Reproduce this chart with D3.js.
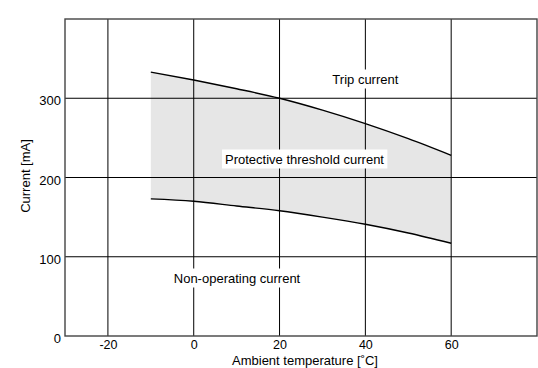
<!DOCTYPE html>
<html><head><meta charset="utf-8">
<script src="https://cdn.jsdelivr.net/npm/d3@7"></script>
<style>body{margin:0;background:#fff}svg{display:block}text{font-family:"Liberation Sans",Arial,sans-serif}</style>
</head><body>
<svg id="c" width="538" height="368"></svg>
<script>
const temps = [-10, 0, 10, 20, 30, 40, 50, 60];
const tripCurrent = [333, 323, 312, 300, 285, 268, 249, 228];
const nonOperatingCurrent = [173, 170, 164, 158, 150, 141, 130, 117];
const xTicks = [-20, 0, 20, 40, 60];
const yTicks = [0, 100, 200, 300];

const FONT = '"Liberation Sans",Arial,sans-serif';
const svg = d3.select("#c");
const L = 65, R = 537, T = 19, B = 336;
const x = d3.scaleLinear().domain([-30, 80]).range([L, R]);
const y = d3.scaleLinear().domain([0, 400]).range([B, T]);

const data = temps.map((t, i) => ({t, hi: tripCurrent[i], lo: nonOperatingCurrent[i]}));

svg.append("path").datum(data)
  .attr("d", d3.area().x(d => x(d.t)).y0(d => y(d.lo)).y1(d => y(d.hi)).curve(d3.curveMonotoneX))
  .attr("fill", "#e6e6e6");

const g = svg.append("g");
xTicks.forEach(v => g.append("line").attr("x1", x(v)).attr("x2", x(v)).attr("y1", T).attr("y2", B).attr("stroke", "#000").attr("stroke-width", 1));
yTicks.filter(v => v > 0).forEach(v => g.append("line").attr("x1", L).attr("x2", R).attr("y1", y(v)).attr("y2", y(v)).attr("stroke", "#000").attr("stroke-width", 1));

svg.append("rect").attr("x", L).attr("y", T).attr("width", R - L).attr("height", B - T)
  .attr("fill", "none").attr("stroke", "#444").attr("stroke-width", 1.4);

const line = d3.line().x(d => x(d[0])).y(d => y(d[1])).curve(d3.curveMonotoneX);
svg.append("path").datum(temps.map((t, i) => [t, tripCurrent[i]])).attr("d", line).attr("fill", "none").attr("stroke", "#000").attr("stroke-width", 1.4);
svg.append("path").datum(temps.map((t, i) => [t, nonOperatingCurrent[i]])).attr("d", line).attr("fill", "none").attr("stroke", "#000").attr("stroke-width", 1.4);

// axes
const xa = svg.append("g").attr("transform", `translate(0,${B})`)
  .call(d3.axisBottom(x).tickValues(xTicks).tickFormat(v => String(v)).tickSize(0).tickPadding(4));
xa.select(".domain").remove();
xa.selectAll("text").attr("font-size", 12.5).attr("fill", "#000").attr("font-family", FONT);
const ya = svg.append("g").attr("transform", `translate(${L},0)`)
  .call(d3.axisLeft(y).tickValues(yTicks).tickFormat(v => String(v)).tickSize(0).tickPadding(4));
ya.select(".domain").remove();
ya.selectAll("text").attr("font-size", 13).attr("fill", "#000").attr("font-family", FONT).attr("dy", "0.5em");

svg.append("text").attr("x", 305).attr("y", 364.5).attr("text-anchor", "middle").attr("font-size", 13).text("Ambient temperature [˚C]");
svg.append("text").attr("transform", "translate(29.5,176) rotate(-90)").attr("text-anchor", "middle").attr("font-size", 13).text("Current [mA]");

function label(txt, cx, baseline) {
  const t = svg.append("text").attr("x", cx).attr("y", baseline).attr("text-anchor", "middle").attr("font-size", 13).text(txt);
  const bb = t.node().getBBox();
  svg.insert("rect", () => t.node()).attr("x", bb.x - 3).attr("y", bb.y - 2).attr("width", bb.width + 6).attr("height", bb.height + 4).attr("fill", "#fff");
}
label("Trip current", x(40), 83.5);
label("Protective threshold current", 304.5, 163.5);
label("Non-operating current", 237, 282.5);
</script>
</body></html>
